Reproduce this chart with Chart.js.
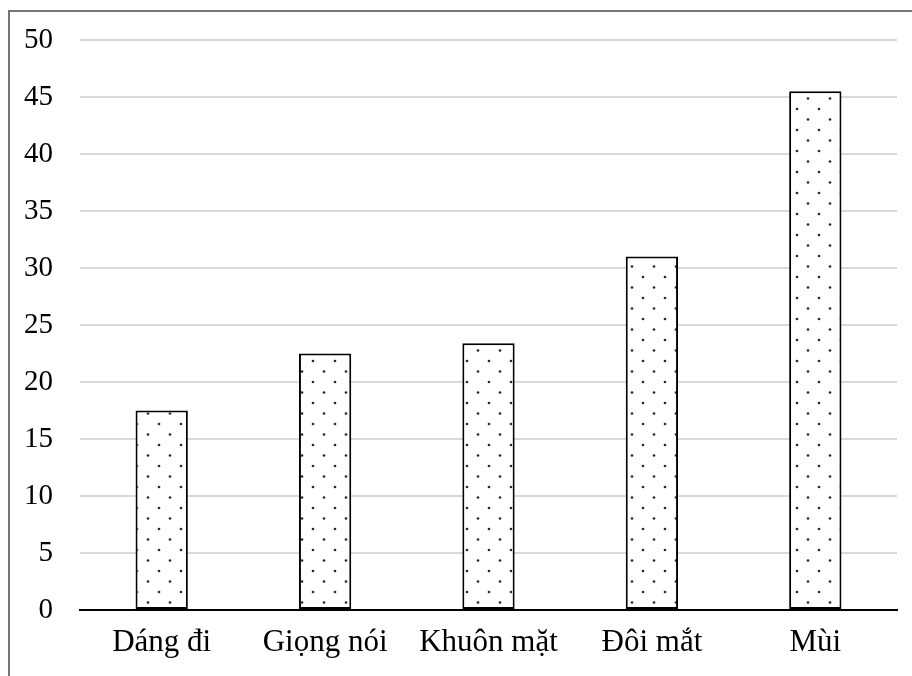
<!DOCTYPE html>
<html>
<head>
<meta charset="utf-8">
<script src="https://cdn.jsdelivr.net/npm/chart.js@4"></script>
<style>
html,body{margin:0;padding:0;background:#fff;}
#wrap{position:relative;width:912px;height:676px;}
</style>
</head>
<body>
<div id="wrap"><canvas id="c" width="912" height="676"></canvas></div>
<script>
const categories = ["Dáng đi", "Giọng nói", "Khuôn mặt", "Đôi mắt", "Mùi"];
const values = [17.5, 22.5, 23.4, 31.0, 45.5];
const yTicks = [0, 5, 10, 15, 20, 25, 30, 35, 40, 45, 50];

function makePattern() {
  const p = document.createElement('canvas');
  p.width = 22; p.height = 21;
  const g = p.getContext('2d');
  g.fillStyle = '#ffffff';
  g.fillRect(0, 0, 22, 21);
  g.fillStyle = '#2a2a2a';
  g.beginPath(); g.arc(5, 4, 1.35, 0, Math.PI * 2); g.fill();
  g.beginPath(); g.arc(16, 14.5, 1.35, 0, Math.PI * 2); g.fill();
  return document.getElementById('c').getContext('2d').createPattern(p, 'repeat');
}

const framePlugin = {
  id: 'frame',
  beforeDraw(chart) {
    const ctx = chart.ctx;
    ctx.save();
    ctx.fillStyle = '#fff';
    ctx.fillRect(0, 0, 912, 676);
    ctx.strokeStyle = '#767676';
    ctx.lineWidth = 2;
    ctx.beginPath();
    ctx.moveTo(9, 676);
    ctx.lineTo(9, 11);
    ctx.lineTo(912, 11);
    ctx.stroke();
    ctx.restore();
  }
};

const yFont = { family: '"Liberation Serif", "Times New Roman", serif', size: 29 };
const xFont = { family: '"Liberation Serif", "Times New Roman", serif', size: 31 };

new Chart(document.getElementById('c'), {
  type: 'bar',
  data: {
    labels: categories,
    datasets: [{
      data: values,
      backgroundColor: makePattern(),
      borderColor: '#000',
      borderWidth: 2,
      borderSkipped: false,
      barPercentage: 0.32,
      categoryPercentage: 1.0
    }]
  },
  options: {
    responsive: false,
    animation: false,
    devicePixelRatio: 1,
    layout: { padding: { left: 0, right: 15, top: 40, bottom: 0 } },
    plugins: { legend: { display: false }, tooltip: { enabled: false } },
    scales: {
      x: {
        grid: { display: false, drawTicks: false },
        border: { display: true, color: '#000', width: 2 },
        ticks: { font: xFont, color: '#000', padding: 14, maxRotation: 0, autoSkip: false },
        afterFit(s) { s.height = 66; s.paddingLeft = 0; s.paddingRight = 0; }
      },
      y: {
        min: 0, max: 50,
        afterBuildTicks(s) { s.ticks = yTicks.map(v => ({ value: v })); },
        grid: { color: '#d9d9d9', lineWidth: 2, drawTicks: false },
        border: { display: false },
        ticks: { font: yFont, color: '#000', padding: 27 },
        afterFit(s) { s.width = 80; s.paddingTop = 0; s.paddingBottom = 0; }
      }
    }
  },
  plugins: [framePlugin]
});
</script>
</body>
</html>
